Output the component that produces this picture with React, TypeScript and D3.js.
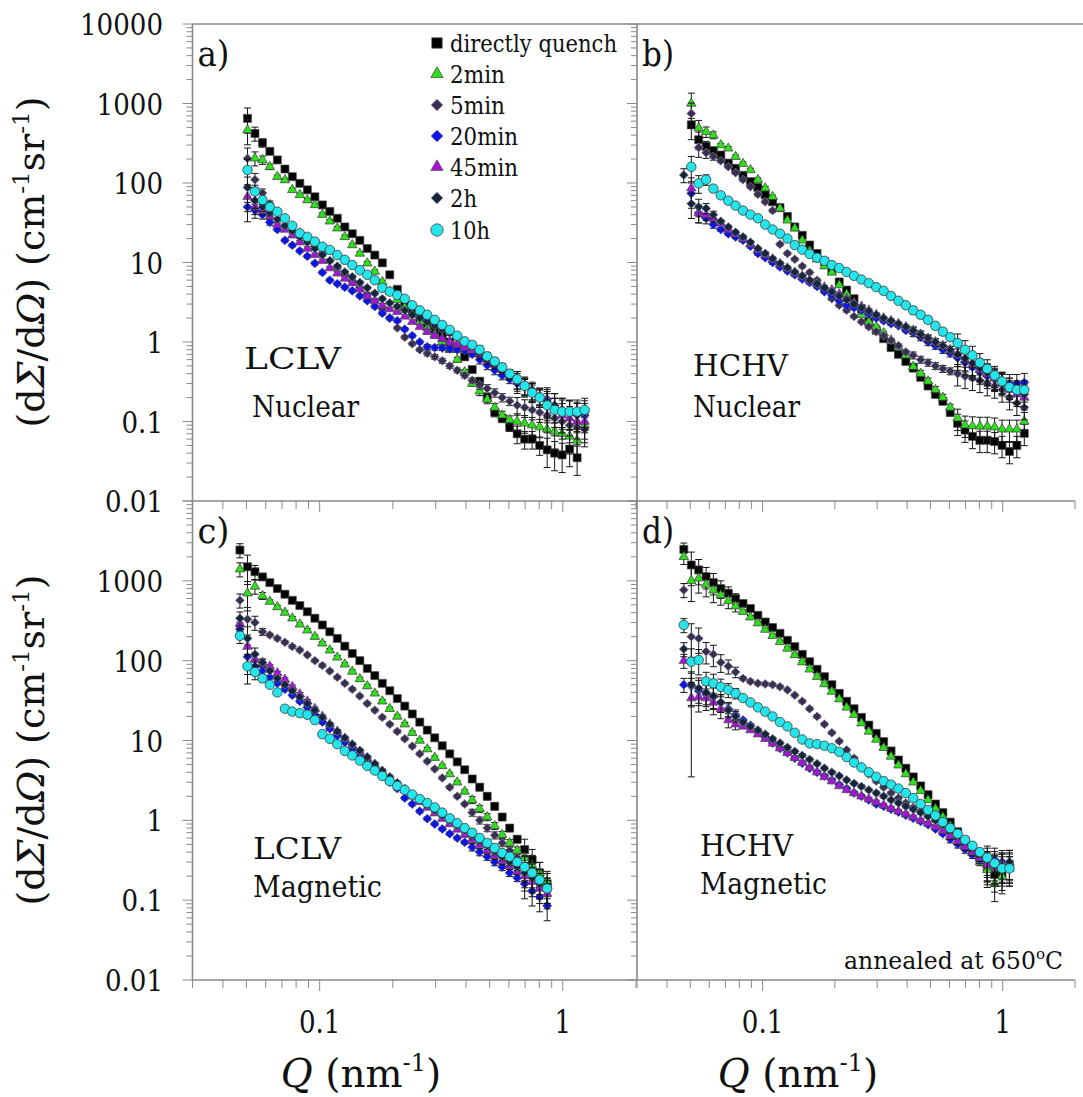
import React from 'react';
import * as d3 from 'd3';

const FONT = "'DejaVu Serif', 'Liberation Serif', serif";

// Q grid (nm^-1), shared by every panel; index k
const Q_GRID = [0.0470, 0.0505, 0.0542, 0.0582, 0.0624, 0.0670, 0.0720, 0.0772, 0.0829, 0.0890,
  0.0956, 0.1026, 0.1101, 0.1182, 0.1269, 0.1362, 0.1463, 0.1570, 0.1686, 0.1810,
  0.1943, 0.2086, 0.2239, 0.2404, 0.2581, 0.2770, 0.2974, 0.3193, 0.3428, 0.3680,
  0.3950, 0.4241, 0.4553, 0.4888, 0.5247, 0.5633, 0.6047, 0.6492, 0.6969, 0.7482,
  0.8032, 0.8623, 0.9257, 0.9937, 1.067, 1.145, 1.230];

const SERIES_NAMES = ['directly quench', '2min', '5min', '20min', '45min', '2h', '10h'];

// ---- panel a) LCLV Nuclear ----
const A_DQ = [null, 650, 420, 320, 250, 195, 150, 120, 99, 82, 67, 53, 44, 36, 28, 23, 19, 15, 12.4, 9.9, 7.0, 4.6, 3.0, 2.4, 2.0, 1.7, 1.45, 1.2, 1.0, 0.85, 0.65, 0.45, 0.32, 0.2, 0.13, 0.11, 0.085, 0.07, 0.06, 0.06, 0.05, 0.044, 0.04, 0.038, 0.045, 0.035, null];
const A_2MIN = [null, 465, 205, 195, 160, 120, 109, 82, 71, 61, 53, 40, 33, 27, 21, 16.6, 13, 9.8, 7.7, 5.7, 4.3, 3.4, 2.7, 2.2, 1.8, 1.5, 1.25, 1.0, 0.8, 0.6, 0.42, 0.3, 0.24, 0.19, 0.15, 0.12, 0.105, 0.1, 0.095, 0.09, 0.085, 0.08, 0.075, 0.07, 0.065, 0.058, 0.09];
const A_5MIN = [null, 204, 110, 75, 55, 44, 36, 29, 24, 19.5, 16, 13, 10.5, 8.5, 7, 5.8, 4.8, 4.0, 3.3, 2.6, 2.0, 1.5, 1.15, 0.95, 0.8, 0.72, 0.65, 0.58, 0.5, 0.44, 0.38, 0.33, 0.29, 0.26, 0.23, 0.2, 0.18, 0.16, 0.15, 0.14, 0.13, 0.12, 0.11, 0.1, 0.09, 0.085, 0.08];
const A_20MIN = [null, 50, 45, 40, 32, 26, 19, 16.5, 14, 12, 9.8, 7.5, 6.0, 5.4, 4.9, 4.4, 3.8, 3.3, 2.8, 2.3, 2.0, 1.85, 1.45, 1.2, 1.0, 0.87, 0.85, 0.84, 0.82, 0.8, 0.78, 0.7, 0.6, 0.51, 0.44, 0.38, 0.34, 0.3, 0.27, 0.24, 0.21, 0.19, 0.16, 0.14, 0.13, 0.125, 0.12];
const A_45MIN = [null, 67, 50, 45, 38, 30, 26, 22, 18, 15, 12.5, 10.5, 8.5, 7.3, 6.3, 5.5, 4.6, 3.8, 3.3, 2.9, 2.6, 2.4, 2.1, 1.8, 1.55, 1.35, 1.2, 1.1, 1.0, 0.93, 0.85, 0.79, 0.7, 0.6, 0.52, 0.45, 0.38, 0.32, 0.28, 0.24, 0.2, 0.17, 0.14, 0.12, 0.11, 0.1, 0.1];
const A_2H = [null, 88, 60, 50, 42, 35, 29, 25, 21, 18, 15, 12.5, 10.5, 9, 7.6, 6.6, 5.6, 4.8, 4.1, 3.5, 3.1, 2.8, 2.5, 2.2, 2.0, 1.8, 1.6, 1.45, 1.3, 1.15, 1.0, 0.87, 0.75, 0.64, 0.55, 0.47, 0.4, 0.34, 0.29, 0.25, 0.21, 0.18, 0.16, 0.14, 0.13, 0.12, 0.13];
const A_10H = [null, 146, 78, 61, 50, 43.6, 36, 29, 23.3, 21, 18.3, 15.8, 14.4, 12.4, 10.8, 9.3, 8.0, 7.0, 6.0, 4.8, 4.3, 3.9, 3.5, 2.9, 2.5, 2.2, 1.9, 1.64, 1.42, 1.2, 1.02, 0.92, 0.8, 0.66, 0.57, 0.48, 0.4, 0.34, 0.28, 0.23, 0.2, 0.16, 0.14, 0.133, 0.133, 0.133, 0.14];
const A_ERR = [0, 0.35, 0.2, 0.12, 0.08, 0.05, 0.05, 0.05, 0.05, 0.05, 0.05, 0.05, 0.05, 0.05, 0.05, 0.05, 0.05, 0.05, 0.05, 0.05, 0.05, 0.05, 0.05, 0.05, 0.05, 0.07, 0.07, 0.07, 0.07, 0.07, 0.07, 0.07, 0.12, 0.12, 0.12, 0.12, 0.12, 0.25, 0.25, 0.25, 0.25, 0.4, 0.4, 0.4, 0.4, 0.4, 0.4];

// ---- panel b) HCHV Nuclear ----
const B_DQ = [null, 540, 350, 290, 255, 225, 178, 153, 125, 104, 88, 71, 58, 49, 38, 28, 22, 16.6, 13, 10.3, 8, 5.7, 4.5, 3.5, 2.6, 1.8, 1.4, 1.1, 0.85, 0.7, 0.57, 0.47, 0.36, 0.28, 0.22, 0.18, 0.13, 0.095, 0.078, 0.065, 0.058, 0.058, 0.056, 0.05, 0.042, 0.05, 0.071];
const B_2MIN = [null, 1000, 490, 440, 400, 300, 273, 214, 175, 146, 110, 86, 67, 48, 34, 27, 19, 14, 11, 9, 7.5, 5.2, 4.0, 3.0, 2.2, 1.8, 1.55, 1.3, 1.05, 0.87, 0.68, 0.49, 0.4, 0.32, 0.25, 0.2, 0.15, 0.11, 0.09, 0.088, 0.087, 0.087, 0.085, 0.08, 0.08, 0.08, 0.1];
const B_5MIN = [null, 750, 280, 240, 215, 190, 160, 135, 110, 90, 72, 58, 45, 17, 13, 11, 9, 7.5, 6, 4.5, 3.5, 2.9, 2.5, 2.1, 1.8, 1.55, 1.35, 1.2, 1.05, 0.9, 0.75, 0.68, 0.6, 0.55, 0.5, 0.46, 0.43, 0.4, 0.37, 0.35, 0.33, 0.3, 0.28, 0.25, 0.2, 0.17, 0.15];
const B_20MIN = [null, 74, 42, 36, 30, 26, 23, 21, 19, 16, 13, 11.5, 10, 8.8, 7.8, 7.0, 6.2, 5.6, 5.0, 4.3, 3.9, 3.3, 2.9, 2.7, 2.5, 2.25, 2.0, 1.85, 1.7, 1.6, 1.4, 1.3, 1.15, 1.0, 0.9, 0.8, 0.72, 0.63, 0.55, 0.48, 0.42, 0.37, 0.34, 0.32, 0.3, 0.3, 0.31];
const B_45MIN = [null, 86, 42, 40, 36, 31, 26, 23, 20, 17, 14.5, 12.5, 11, 9.6, 8.5, 7.5, 6.7, 6.0, 5.4, 4.9, 4.5, 4.0, 3.5, 3.1, 2.8, 2.5, 2.2, 2.0, 1.85, 1.7, 1.55, 1.4, 1.25, 1.1, 1.0, 0.9, 0.8, 0.7, 0.6, 0.52, 0.45, 0.4, 0.35, 0.3, 0.25, 0.22, 0.2];
const B_2H = [126, 55, 50, 48, 40, 33, 28, 24, 21, 18, 15, 13, 11.2, 9.8, 8.6, 7.6, 6.8, 6.0, 5.4, 4.8, 4.3, 3.8, 3.4, 3.0, 2.7, 2.45, 2.2, 2.0, 1.85, 1.7, 1.55, 1.4, 1.25, 1.12, 1.0, 0.9, 0.8, 0.7, 0.62, 0.54, 0.47, 0.41, 0.36, 0.31, 0.27, 0.24, 0.22];
const B_10H = [null, 160, 99, 110, 85, 70, 60, 52, 45, 40, 36, 30, 26, 23, 20, 16.6, 14.5, 12.8, 11.5, 10.5, 9.3, 8.5, 7.6, 6.8, 6.1, 5.5, 4.9, 4.4, 3.8, 3.3, 2.9, 2.5, 2.2, 1.9, 1.6, 1.35, 1.15, 0.97, 0.8, 0.68, 0.55, 0.46, 0.38, 0.32, 0.27, 0.25, 0.25];
const B_ERR = [0.2, 0.35, 0.25, 0.15, 0.1, 0.05, 0.05, 0.05, 0.05, 0.05, 0.05, 0.05, 0.05, 0.05, 0.05, 0.05, 0.05, 0.05, 0.05, 0.05, 0.05, 0.05, 0.05, 0.05, 0.05, 0.05, 0.05, 0.05, 0.05, 0.05, 0.05, 0.1, 0.1, 0.1, 0.1, 0.1, 0.1, 0.3, 0.3, 0.3, 0.3, 0.3, 0.3, 0.3, 0.3, 0.3, 0.3];

// ---- panel c) LCLV Magnetic ----
const C_DQ = [2430, 1500, 1300, 1120, 950, 800, 680, 570, 490, 410, 340, 280, 230, 190, 152, 123, 100, 80, 65, 52, 42, 33.5, 27, 21.5, 17, 13.5, 10.8, 8.6, 6.8, 5.4, 4.3, 3.3, 2.6, 2.0, 1.5, 1.1, 0.8, 0.58, 0.43, 0.32, 0.22, 0.16];
const C_2MIN = [1400, 700, 850, 650, 550, 470, 400, 340, 285, 240, 200, 165, 135, 110, 90, 73, 59, 48, 39, 31, 25, 20, 16, 12.5, 10, 7.8, 6.1, 4.8, 3.8, 3.0, 2.3, 1.8, 1.4, 1.1, 0.85, 0.66, 0.52, 0.42, 0.34, 0.27, 0.22, 0.17];
const C_5MIN = [570, 330, 300, 230, 210, 190, 170, 150, 136, 118, 100, 87, 74, 62, 52, 44, 36, 29, 24, 19.5, 16, 13, 10.5, 8.5, 6.8, 5.5, 4.4, 3.4, 2.6, 2.0, 1.6, 1.25, 1.0, 0.8, 0.65, 0.52, 0.42, 0.34, 0.27, 0.21, 0.16, 0.13];
const C_20MIN = [250, 112, 85, 75, 62, 52, 44, 37, 31, 26, 21, 17, 14, 11.5, 9.5, 7.8, 6.4, 5.3, 4.4, 3.6, 3.0, 2.5, 1.9, 1.6, 1.3, 1.05, 0.9, 0.78, 0.68, 0.6, 0.53, 0.46, 0.4, 0.35, 0.3, 0.26, 0.22, 0.19, 0.16, 0.13, 0.11, 0.085];
const C_45MIN = [290, 150, 105, 95, 85, 70, 58, 47, 38, 31, 25, 20, 16, 13, 10.6, 8.7, 7.2, 6.0, 5.0, 4.1, 3.4, 2.85, 2.4, 2.0, 1.7, 1.45, 1.23, 1.05, 0.9, 0.77, 0.66, 0.57, 0.49, 0.42, 0.36, 0.31, 0.27, 0.23, 0.2, 0.17, 0.14, 0.12];
const C_2H = [340, 190, 120, 95, 75, 60, 50, 42, 35, 29, 24, 19.5, 16, 13, 10.8, 9, 7.5, 6.2, 5.1, 4.2, 3.5, 2.95, 2.5, 2.1, 1.8, 1.55, 1.33, 1.15, 1.0, 0.86, 0.75, 0.65, 0.56, 0.48, 0.41, 0.35, 0.3, 0.26, 0.22, 0.19, 0.16, 0.14];
const C_10H = [205, 85, 72, 60, 50, 40, 25, 23, 22, 21, 18, 12, 10.5, 9, 7.4, 6.5, 5.6, 4.8, 4.2, 3.6, 3.1, 2.7, 2.4, 2.1, 1.85, 1.65, 1.45, 1.25, 1.06, 0.92, 0.8, 0.7, 0.6, 0.52, 0.45, 0.39, 0.35, 0.3, 0.26, 0.22, 0.18, 0.14];
const C_ERR = [0.2, 0.4, 0.2, 0.1, 0.05, 0.05, 0.05, 0.05, 0.05, 0.05, 0.05, 0.05, 0.05, 0.05, 0.05, 0.05, 0.05, 0.05, 0.05, 0.05, 0.05, 0.05, 0.05, 0.05, 0.05, 0.05, 0.05, 0.05, 0.05, 0.05, 0.05, 0.1, 0.1, 0.1, 0.1, 0.1, 0.1, 0.1, 0.35, 0.35, 0.35, 0.35];

// ---- panel d) HCHV Magnetic ----
const D_DQ = [2480, 1580, 1370, 1130, 950, 800, 700, 600, 520, 450, 370, 305, 260, 220, 180, 150, 120, 97, 78, 63, 50, 39, 31, 25, 19.5, 15.6, 12.3, 9.7, 7.4, 5.7, 4.5, 3.5, 2.7, 2.1, 1.6, 1.25, 0.95, 0.72, 0.55, 0.43, 0.33, 0.26, 0.21, 0.22, 0.28];
const D_2MIN = [2000, 1000, 1080, 900, 760, 660, 560, 480, 410, 350, 295, 245, 205, 172, 142, 118, 96, 78, 63, 51, 41, 33, 26, 21, 16.5, 13, 10.3, 8.1, 6.3, 4.9, 3.8, 3.0, 2.35, 1.8, 1.4, 1.1, 0.85, 0.65, 0.5, 0.39, 0.3, 0.24, 0.16, 0.2, 0.25];
const D_5MIN = [770, 200, 190, 130, 120, 95, 85, 72, 60, 55, 52, 51, 50, 47, 43, 37, 31, 25, 20, 16, 12.5, 9.8, 7.6, 6.0, 4.7, 3.8, 3.1, 2.6, 2.2, 1.9, 1.65, 1.45, 1.3, 1.15, 1.0, 0.85, 0.72, 0.6, 0.5, 0.42, 0.35, 0.29, 0.25, 0.27, 0.3];
const D_20MIN = [50, 48, 42, 38, 35, 30, 25, 21, 18, 15.5, 13, 11, 9.3, 8.0, 7.0, 6.0, 5.2, 4.5, 4.0, 3.6, 3.2, 2.8, 2.5, 2.2, 2.0, 1.8, 1.6, 1.5, 1.38, 1.27, 1.16, 1.06, 0.97, 0.88, 0.78, 0.68, 0.58, 0.5, 0.43, 0.37, 0.32, 0.29, 0.32, 0.3, 0.27];
const D_45MIN = [100, 34, 35, 34, 30, 25, 18, 16, 15, 13.5, 12, 10.5, 9.2, 8, 7, 6.1, 5.3, 4.6, 4.0, 3.5, 3.1, 2.7, 2.4, 2.2, 2.0, 1.85, 1.7, 1.55, 1.42, 1.3, 1.2, 1.1, 1.0, 0.92, 0.83, 0.74, 0.64, 0.55, 0.47, 0.4, 0.34, 0.28, 0.26, 0.28, 0.3];
const D_2H = [140, 50, 45, 40, 36, 30, 24, 20, 17, 15, 13.5, 12, 10.5, 9.3, 8.2, 7.3, 6.5, 5.8, 5.1, 4.5, 4.0, 3.6, 3.2, 2.9, 2.65, 2.4, 2.2, 2.0, 1.8, 1.65, 1.5, 1.38, 1.25, 1.12, 1.0, 0.88, 0.76, 0.65, 0.55, 0.46, 0.38, 0.32, 0.27, 0.27, 0.3];
const D_10H = [280, 97, 102, 55, 52, 47, 43, 39, 34, 30, 26, 23, 20, 17, 15, 12.5, 10.3, 9.2, 9, 8.6, 8.0, 7.2, 6.2, 5.3, 4.6, 4.0, 3.5, 3.1, 2.8, 2.5, 2.2, 1.9, 1.6, 1.35, 1.15, 0.95, 0.8, 0.68, 0.57, 0.48, 0.4, 0.34, 0.29, 0.25, 0.25];
const D_ERR = [0.2, 0.45, 0.35, 0.3, 0.3, 0.25, 0.2, 0.15, 0.05, 0.05, 0.05, 0.05, 0.05, 0.05, 0.05, 0.05, 0.05, 0.05, 0.05, 0.05, 0.05, 0.05, 0.05, 0.05, 0.05, 0.05, 0.05, 0.05, 0.05, 0.05, 0.05, 0.05, 0.05, 0.05, 0.05, 0.05, 0.1, 0.1, 0.1, 0.1, 0.1, 0.4, 0.4, 0.4, 0.4];
// explicit wide error bar: [series index, k, low, high]
const D_ERR_SPECIAL = [[4, 1, 3.5, 60]];

// ticks
const Y_TICK_VALUES = [10000, 1000, 100, 10, 1, 0.1, 0.01];
const Y_TICK_LABELS = ['10000', '1000', '100', '10', '1', '0.1', '0.01'];
const X_TICK_VALUES = [0.1, 1];
const X_TICK_LABELS = ['0.1', '1'];
const X_DOMAIN = [0.03, 2];
const Y_DOMAIN = [0.01, 10000];

// rendered widths of the texts (the reference uses a narrow Times-like face)
const LEGEND_WIDTHS = [167, 55, 55, 68, 68, 27, 40];

const STYLES = [
  { shape: 'square', fill: '#000000', stroke: '#4a4a4a', size: 8 },
  { shape: 'triangle', fill: '#2ee01a', stroke: '#3a3a3a', size: 9.5 },
  { shape: 'diamond', fill: '#3a2e52', stroke: '#8a8a9a', size: 9 },
  { shape: 'diamond', fill: '#0c14e6', stroke: '#50508a', size: 9 },
  { shape: 'triangle', fill: '#a414d8', stroke: '#505050', size: 9.5 },
  { shape: 'diamond', fill: '#17253c', stroke: '#7a8494', size: 9 },
  { shape: 'circle', fill: '#22e6ec', stroke: '#3a3a3a', size: 9.5 },
];

function markerPath(shape: string, s: number) {
  if (shape === 'square') return `M${-s / 2},${-s / 2}h${s}v${s}h${-s}Z`;
  if (shape === 'triangle') {
    const h = s * 0.866;
    return `M0,${-h * 2 / 3}L${s / 2},${h / 3}L${-s / 2},${h / 3}Z`;
  }
  if (shape === 'diamond') return `M0,${-s / 2}L${s / 2},0L0,${s / 2}L${-s / 2},0Z`;
  return '';
}

function Marker({ si, x, y, scale = 1 }: { si: number; x: number; y: number; scale?: number }) {
  const st = STYLES[si];
  if (st.shape === 'circle') {
    return <circle cx={x} cy={y} r={(st.size * scale) / 2} fill={st.fill} stroke={st.stroke} strokeWidth={0.8} />;
  }
  return <path transform={`translate(${x},${y})`} d={markerPath(st.shape, st.size * scale)} fill={st.fill} stroke={st.stroke} strokeWidth={0.7} />;
}

const PANELS = [
  { id: 'a', x0: 192.5, x1: 636, y0: 24, y1: 501, label: 'a)', lines: ['LCLV', 'Nuclear'], linePos: [[244, 369], [252, 417]], lineW: [97, 107],
    series: [A_DQ, A_2MIN, A_5MIN, A_20MIN, A_45MIN, A_2H, A_10H], err: A_ERR, special: [] as number[][], left: true, top: true },
  { id: 'b', x0: 637, x1: 1075, y0: 24, y1: 501, label: 'b)', lines: ['HCHV', 'Nuclear'], linePos: [[693, 376], [693, 417]], lineW: [95, 107],
    series: [B_DQ, B_2MIN, B_5MIN, B_20MIN, B_45MIN, B_2H, B_10H], err: B_ERR, special: [] as number[][], left: false, top: true },
  { id: 'c', x0: 192.5, x1: 636, y0: 501, y1: 980, label: 'c)', lines: ['LCLV', 'Magnetic'], linePos: [[253, 859], [253, 897]], lineW: [88, 129],
    series: [C_DQ, C_2MIN, C_5MIN, C_20MIN, C_45MIN, C_2H, C_10H], err: C_ERR, special: [] as number[][], left: true, top: false },
  { id: 'd', x0: 637, x1: 1075, y0: 501, y1: 980, label: 'd)', lines: ['HCHV', 'Magnetic'], linePos: [[700, 856], [700, 894]], lineW: [93, 127],
    series: [D_DQ, D_2MIN, D_5MIN, D_20MIN, D_45MIN, D_2H, D_10H], err: D_ERR, special: D_ERR_SPECIAL, left: false, top: false },
];

const AXIS_COLOR = '#8a8a8a';
const txt = (size: number): React.CSSProperties => ({ fontFamily: FONT, fontSize: size });
const numW = (s: string) => s.replace(/\./g, '').length * 16.6 + (s.includes('.') ? 8.3 : 0);

function PanelView({ p }: { p: typeof PANELS[number] }) {
  const xs = d3.scaleLog().domain(X_DOMAIN).range([p.x0, p.x1]);
  const ys = d3.scaleLog().domain(Y_DOMAIN).range([p.y1, p.y0]);

  const yTicks: { v: number; major: boolean }[] = [];
  for (let e = -2; e <= 4; e++) {
    for (let m = 1; m <= 9; m++) {
      const v = m * Math.pow(10, e);
      if (v > Y_DOMAIN[1] * 1.0001) break;
      yTicks.push({ v, major: m === 1 });
    }
  }
  const xTicks: { v: number; major: boolean }[] = [];
  for (let e = -2; e <= 0; e++) {
    for (let m = 1; m <= 9; m++) {
      const v = m * Math.pow(10, e);
      if (v >= X_DOMAIN[0] * 0.999 && v <= X_DOMAIN[1] * 1.001) xTicks.push({ v, major: m === 1 });
    }
  }

  const marks: React.ReactNode[] = [];
  p.series.forEach((arr, si) => {
    arr.forEach((v, k) => {
      if (v == null) return;
      const cx = xs(Q_GRID[k]);
      const e = p.err[k] ?? 0.05;
      let lo = v * (1 - e);
      let hi = v * (1 + e);
      const sp = p.special.find((s) => s[0] === si && s[1] === k);
      if (sp) { lo = sp[2]; hi = sp[3]; }
      const y1 = ys(lo), y2 = ys(hi);
      marks.push(
        <g key={`e${si}-${k}`} stroke="#151515" strokeWidth={1}>
          <line x1={cx} x2={cx} y1={y1} y2={y2} />
          <line x1={cx - 3.5} x2={cx + 3.5} y1={y1} y2={y1} />
          <line x1={cx - 3.5} x2={cx + 3.5} y1={y2} y2={y2} />
        </g>
      );
    });
    arr.forEach((v, k) => {
      if (v == null) return;
      marks.push(<Marker key={`m${si}-${k}`} si={si} x={xs(Q_GRID[k])} y={ys(v)} />);
    });
  });

  return (
    <g>
      {yTicks.map((t, i) => (
        <line key={`yt${i}`} x1={p.x0 - (t.major ? 10 : 6)} x2={p.x0} y1={ys(t.v)} y2={ys(t.v)} stroke={AXIS_COLOR} strokeWidth={1} />
      ))}
      {xTicks.map((t, i) => (
        <line key={`xt${i}`} x1={xs(t.v)} x2={xs(t.v)} y1={p.y1} y2={p.y1 + (t.major ? 11 : 8)} stroke={AXIS_COLOR} strokeWidth={1} />
      ))}
      {p.left && Y_TICK_VALUES.map((v, i) => (p.top || v < 10000) ? (
        <text key={`yl${i}`} x={163} y={ys(v) + 11} textAnchor="end" style={txt(30)} fill="#111"
          textLength={numW(Y_TICK_LABELS[i])} lengthAdjust="spacingAndGlyphs">{Y_TICK_LABELS[i]}</text>
      ) : null)}
      {!p.top && X_TICK_VALUES.map((v, i) => (
        <text key={`xl${i}`} x={xs(v)} y={1033} textAnchor="middle" style={txt(31)} fill="#111"
          textLength={numW(X_TICK_LABELS[i])} lengthAdjust="spacingAndGlyphs">{X_TICK_LABELS[i]}</text>
      ))}
      {marks}
      <text x={p.x0 + 5} y={p.y0 + 42} style={txt(36)} fill="#111" textLength={32} lengthAdjust="spacingAndGlyphs">{p.label}</text>
      {p.lines.map((t, i) => (
        <text key={`ln${i}`} x={p.linePos[i][0]} y={p.linePos[i][1]} style={txt(30)} fill="#111"
          textLength={p.lineW[i]} lengthAdjust="spacingAndGlyphs">{t}</text>
      ))}
    </g>
  );
}

function YTitle({ cy }: { cy: number }) {
  return (
    <text transform={`translate(44,${cy}) rotate(-90)`} textAnchor="middle" style={txt(38)} fill="#111">
      (d<tspan fontStyle="italic">Σ</tspan>/d<tspan fontStyle="italic">Ω</tspan>) (cm<tspan style={{ fontSize: 23 }} dy={-15}>-1</tspan><tspan dy={15}>sr</tspan><tspan style={{ fontSize: 23 }} dy={-15}>-1</tspan><tspan dy={15}>)</tspan>
    </text>
  );
}

function XTitle({ cx }: { cx: number }) {
  return (
    <text x={cx} y={1087} textAnchor="middle" style={txt(39)} fill="#111">
      <tspan fontStyle="italic">Q</tspan> (nm<tspan style={{ fontSize: 24 }} dy={-16}>-1</tspan><tspan dy={16}>)</tspan>
    </text>
  );
}

export default function App() {
  const legendY = [43, 74, 105, 136, 167, 198, 230];
  return (
    <svg width={1083} height={1097} style={{ position: 'absolute', left: 0, top: 0, background: '#fff' }} xmlns="http://www.w3.org/2000/svg">
      <rect x={0} y={0} width={1083} height={1097} fill="#fff" />
      {PANELS.map((p) => <PanelView key={p.id} p={p} />)}
      <g stroke={AXIS_COLOR} strokeWidth={1.6}>
        <line x1={192.5} x2={192.5} y1={24} y2={980} />
        <line x1={637} x2={637} y1={24} y2={980} />
        <line x1={192.5} x2={1083} y1={24} y2={24} />
        <line x1={192.5} x2={1075} y1={501} y2={501} />
        <line x1={192.5} x2={1075} y1={980} y2={980} />
      </g>
      {SERIES_NAMES.map((n, i) => (
        <g key={n}>
          <Marker si={i} x={437} y={legendY[i]} scale={1.3} />
          <text x={450} y={legendY[i] + 9} style={txt(25)} fill="#111" textLength={LEGEND_WIDTHS[i]} lengthAdjust="spacingAndGlyphs">{n}</text>
        </g>
      ))}
      <YTitle cy={262} />
      <YTitle cy={740} />
      <XTitle cx={361} />
      <XTitle cx={798} />
      <text x={1063} y={969} textAnchor="end" style={txt(23.5)} fill="#111">
        annealed at 650<tspan style={{ fontSize: 15 }} dy={-10}>o</tspan><tspan dy={10}>C</tspan>
      </text>
    </svg>
  );
}
